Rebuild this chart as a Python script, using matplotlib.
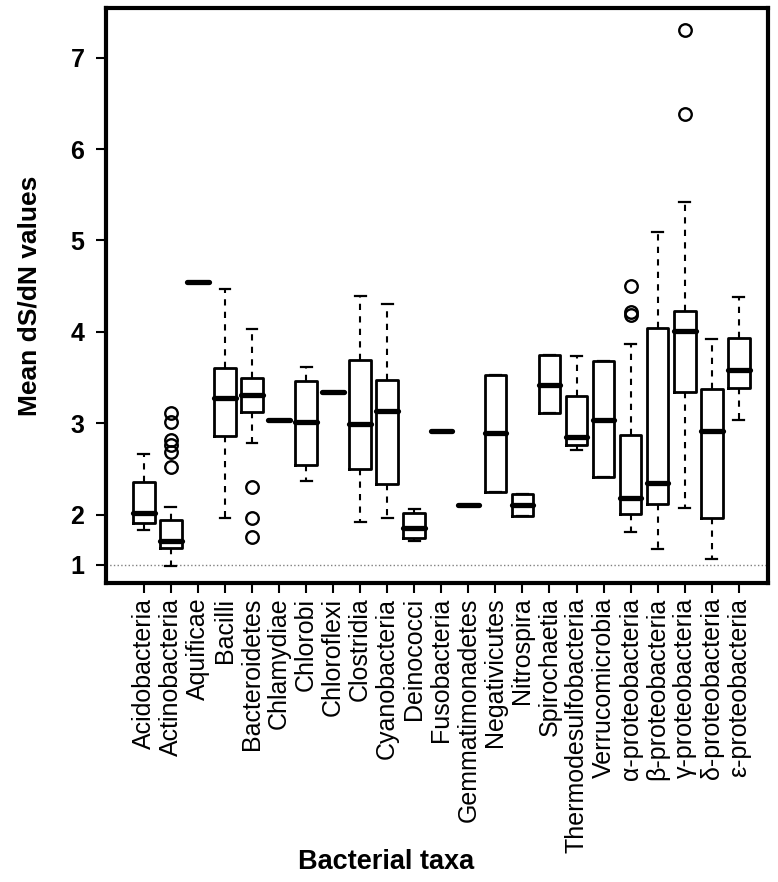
import matplotlib
matplotlib.use("Agg")
import matplotlib.pyplot as plt

plt.rcParams['font.family'] = ['Liberation Sans', 'DejaVu Sans']

# data (y scale as drawn: ticks 2..7 linear, "1" tick sits at 1.45)
taxa = ["Acidobacteria", "Actinobacteria", "Aquificae", "Bacilli", "Bacteroidetes",
        "Chlamydiae", "Chlorobi", "Chloroflexi", "Clostridia", "Cyanobacteria",
        "Deinococci", "Fusobacteria", "Gemmatimonadetes", "Negativicutes", "Nitrospira",
        "Spirochaetia", "Thermodesulfobacteria", "Verrucomicrobia", "\u03b1-proteobacteria",
        "\u03b2-proteobacteria", "\u03b3-proteobacteria", "\u03b4-proteobacteria",
        "\u03b5-proteobacteria"]

whisk_lo = [1.83, 1.44, 4.55, 1.96, 2.78, 3.03, 2.37, 3.34, 1.92, 1.96, 1.71, 2.91,
            2.11, 2.25, 1.99, 3.11, 2.71, 2.41, 1.81, 1.62, 2.07, 1.51, 3.03]
q1 = [1.91, 1.63, 4.55, 2.86, 3.12, 3.03, 2.54, 3.34, 2.50, 2.34, 1.74, 2.91,
      2.11, 2.25, 1.99, 3.11, 2.76, 2.41, 2.01, 2.12, 3.34, 1.96, 3.38]
medians = [2.02, 1.71, 4.55, 3.28, 3.31, 3.03, 3.01, 3.34, 2.99, 3.13, 1.85, 2.91,
           2.11, 2.89, 2.10, 3.42, 2.85, 3.03, 2.18, 2.35, 4.01, 2.92, 3.58]
q3 = [2.36, 1.94, 4.55, 3.60, 3.49, 3.03, 3.46, 3.34, 3.69, 3.47, 2.02, 2.91,
      2.11, 3.53, 2.23, 3.75, 3.30, 3.68, 2.87, 4.04, 4.23, 3.37, 3.93]
whisk_hi = [2.66, 2.08, 4.55, 4.47, 4.03, 3.03, 3.62, 3.34, 4.39, 4.30, 2.06, 2.91,
            2.11, 3.53, 2.23, 3.75, 3.74, 3.68, 3.87, 5.09, 5.42, 3.92, 4.38]

outliers = {
    "Actinobacteria": [3.11, 3.01, 2.82, 2.76, 2.68, 2.52],
    "Bacteroidetes": [2.30, 1.96, 1.75],
    "\u03b1-proteobacteria": [4.50, 4.22, 4.18],
    "\u03b3-proteobacteria": [7.30, 6.38],
}

ytick_pos = [1.45, 2, 3, 4, 5, 6, 7]
ytick_lab = ["1", "2", "3", "4", "5", "6", "7"]
ref_line = 1.45

stats = []
for i, t in enumerate(taxa):
    stats.append(dict(label=t, whislo=whisk_lo[i], q1=q1[i], med=medians[i],
                      q3=q3[i], whishi=whisk_hi[i], fliers=outliers.get(t, [])))

fig = plt.figure(figsize=(7.78, 8.82), dpi=100)
ax = fig.add_axes([106/778, 1-583/882, 662/778, 575/882])

ax.axhline(ref_line, color='grey', ls=':', lw=1.0, zorder=0)

ax.bxp(stats, positions=range(1, len(taxa)+1), widths=0.8, capwidths=0.4,
       boxprops=dict(color='black', lw=2.0),
       medianprops=dict(color='black', lw=3.8, solid_capstyle='round'),
       whiskerprops=dict(color='black', lw=1.5, ls=(0, (3, 3))),
       capprops=dict(color='black', lw=1.6),
       flierprops=dict(marker='o', ms=9, mfc='none', mec='black', mew=1.7))

ax.set_xlim(-0.40, 24.08)
ax.set_ylim(1.252, 7.543)

ax.set_yticks(ytick_pos)
ax.set_yticklabels(ytick_lab, fontsize=18, fontweight='bold')
ax.set_xticks(range(1, len(taxa)+1))
ax.set_xticklabels(taxa, rotation=90, fontsize=18)
ax.tick_params(axis='both', length=7.5, width=1.5, color='black')
ax.tick_params(axis='y', pad=8)
ax.tick_params(axis='x', pad=3)

for s in ax.spines.values():
    s.set_linewidth(3)

ax.set_ylabel("Mean dS/dN values", fontsize=19, fontweight='bold')
ax.yaxis.set_label_coords(-0.097, 0.5)
fig.text(386/778, 1-862/882, "Bacterial taxa", fontsize=19.5, fontweight='bold',
         ha='center', va='center')

fig.savefig("out.png", dpi=100)
